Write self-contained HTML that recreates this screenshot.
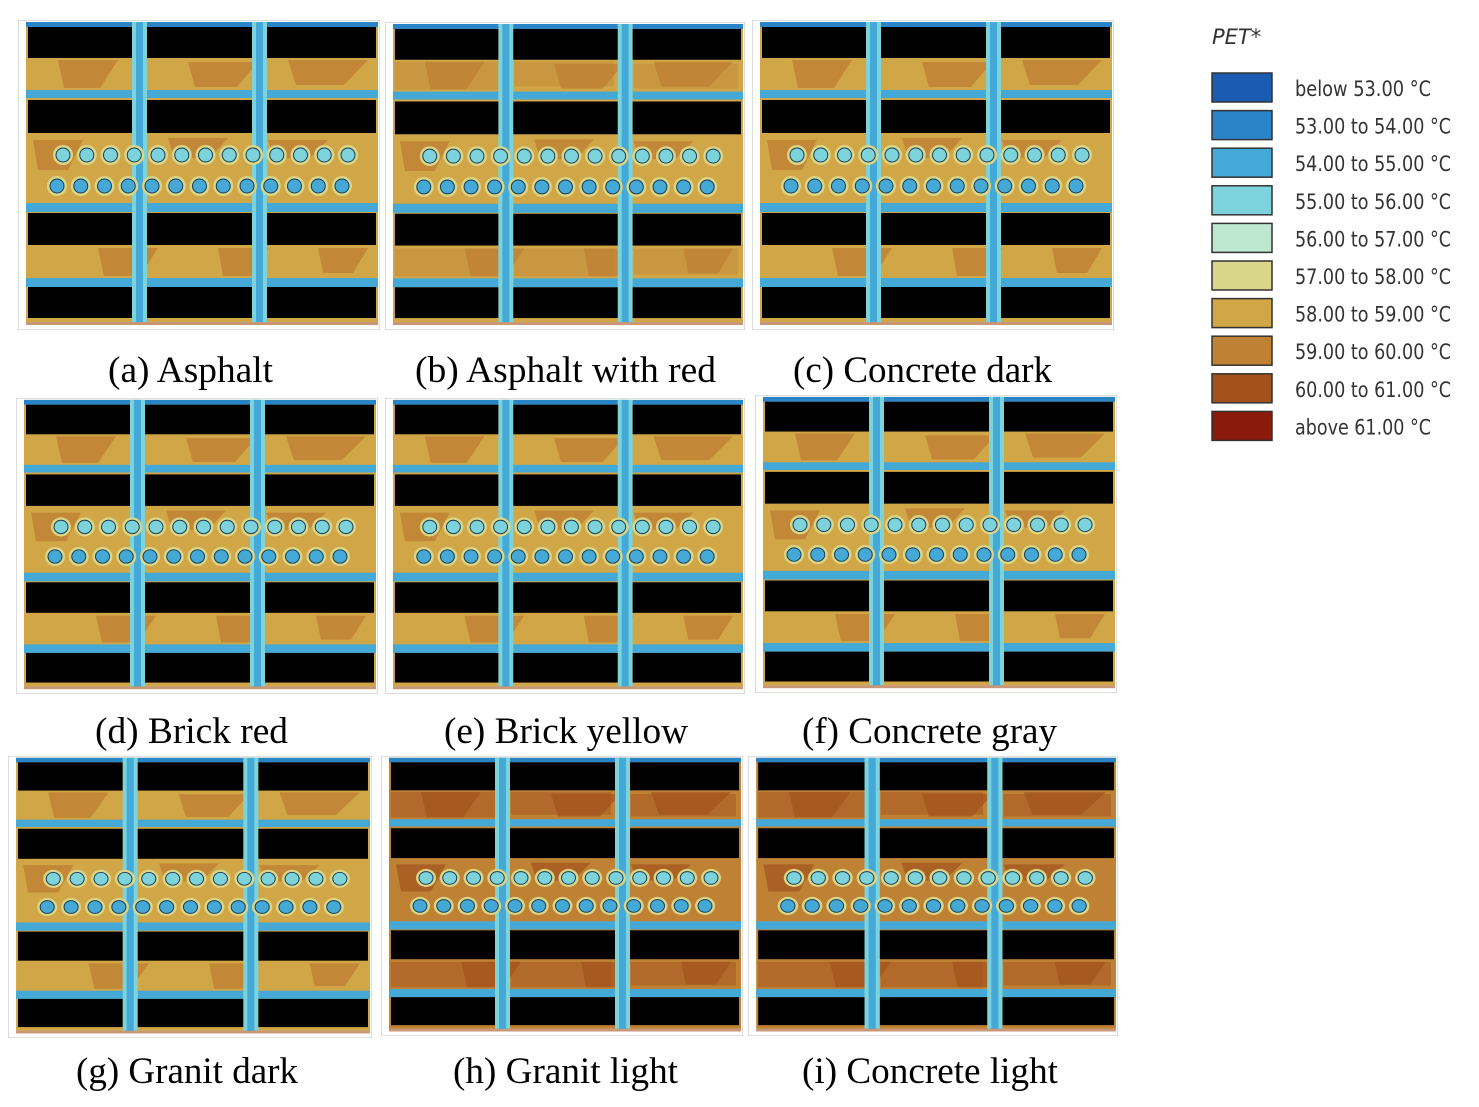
<!DOCTYPE html>
<html><head><meta charset="utf-8"><style>
html,body{margin:0;padding:0;background:#fff;}
svg{display:block;}
.cap{font-family:"Liberation Serif",serif;font-size:37px;fill:#000;}
.lg{font-family:"DejaVu Sans","Liberation Sans",sans-serif;font-size:21px;fill:#333;}
</style></head><body>
<svg id="fig" width="1479" height="1107" viewBox="0 0 1479 1107"></svg>
<script>
const legendLabels=["below 53.00 °C","53.00 to 54.00 °C","54.00 to 55.00 °C","55.00 to 56.00 °C","56.00 to 57.00 °C","57.00 to 58.00 °C","58.00 to 59.00 °C","59.00 to 60.00 °C","60.00 to 61.00 °C","above 61.00 °C"];
const legendColors=["#1a5bb0","#2a84c8","#44a9d6","#7dd3dc","#bde8cf","#d9d68a","#d1a646","#bf8235","#a3521d","#8a1a0c"];
const panelNames=["(a) Asphalt","(b) Asphalt with red","(c) Concrete dark","(d) Brick red","(e) Brick yellow","(f) Concrete gray","(g) Granit dark","(h) Granit light","(i) Concrete light"];
const bandClass=[6,6,6,6,6,6,6,7,7];
const patchClass=[7,7,7,7,7,7,7,8,8];
const treesPerRow=[13,13,13,13,13,13,13,13,13];
const panelRects=[[18,20,362,310],[385,22,360,308],[752,20,362,310],[16,398,362,296],[385,398,360,296],[755,395,362,298],[8,756,364,282],[381,756,362,280],[748,756,370,280]];
const capPos=[[108,382,165],[415,382,301],[793,382,259],[95,743,193],[444,743,244],[802,743,255],[76,1083,222],[453,1083,225],[802,1083,256]];

const NS="http://www.w3.org/2000/svg";
const fig=document.getElementById('fig');
function mk(tag,attrs,parent){const e=document.createElementNS(NS,tag);for(const k in attrs)e.setAttribute(k,attrs[k]);(parent||fig).appendChild(e);return e;}

panelRects.forEach((r,p)=>{
  const g=mk('svg',{x:r[0],y:r[1],width:r[2],height:r[3],viewBox:"0 0 362 310",preserveAspectRatio:"none"});
  
  
  const band=legendColors[bandClass[p]], patch=legendColors[patchClass[p]];
  mk('rect',{x:0,y:0,width:362,height:310,fill:"#fff",stroke:"#bbb","stroke-width":1},g);
  mk('rect',{x:8,y:2,width:352,height:300,fill:band},g);
  [[40,40,60,28],[170,42,70,25],[270,40,80,25],[15,120,50,30],[150,118,60,20],[250,120,60,18],[80,228,60,28],[200,228,50,28],[300,228,50,25]].forEach(q=>{
    mk('polygon',{points:`${q[0]},${q[1]} ${q[0]+q[2]},${q[1]} ${q[0]+q[2]*0.7},${q[1]+q[3]} ${q[0]+q[2]*0.1},${q[1]+q[3]}`,fill:patch,opacity:p>=7?0.7:0.85},g);
  });
  if(p>=7||p===1){[[10,40,105,28],[130,40,100,25],[250,42,105,25],[10,228,110,28],[130,228,100,28],[250,228,105,26]].forEach(q=>mk('rect',{x:q[0],y:q[1],width:q[2],height:q[3],fill:patch,opacity:p===1?0.4:0.5},g));}
  mk('rect',{x:8,y:2,width:352,height:5,fill:legendColors[1]},g);
  [[70,8],[183,9],[258,9]].forEach(s=>mk('rect',{x:8,y:s[0],width:352,height:s[1],fill:legendColors[2]},g));
  [114,234].forEach(x=>mk('rect',{x:x,y:2,width:15,height:300,fill:legendColors[3]},g));
  [114,234].forEach(x=>mk('rect',{x:x+4,y:2,width:7,height:300,fill:legendColors[2]},g));
  [[7,31],[80,33],[193,32],[267,31]].forEach(rw=>[[10,104],[129,105],[249,109]].forEach(c=>{
    const b=mk('rect',{x:c[0],y:rw[0],width:c[1],height:rw[1],fill:"#000"},g);
    
    
  }));
  const n=treesPerRow[p];
  [135,166].forEach((ty,ri)=>{for(let i=0;i<n;i++){const tx=45+i*(285/(n-1))-(ri?6:0);
    mk('circle',{cx:tx,cy:ty,r:10,fill:legendColors[5]},g);
    const t=mk('circle',{cx:tx,cy:ty,r:7,fill:legendColors[ri?2:3],stroke:"#1a3a50","stroke-width":1},g);
    
    }});
  mk('rect',{x:8,y:302,width:352,height:3,fill:legendColors[8],opacity:0.6},g);
  const c=capPos[p];
  const tx=mk('text',{x:c[0],y:c[1],class:'cap',textLength:c[2],lengthAdjust:'spacingAndGlyphs'});
  tx.textContent=panelNames[p];
  
  
});

const ttl=mk('text',{x:1212,y:44,class:'lg','font-style':'italic'});ttl.textContent="PET*";


legendLabels.forEach((l,i)=>{
  const y=73+i*37.6;
  const s=mk('rect',{x:1212,y:y,width:60,height:29,fill:legendColors[i],stroke:"#333","stroke-width":1.5});
  
  
  const t=mk('text',{x:1295,y:y+23,class:'lg',textLength:i===0?136:(i===9?136:156),lengthAdjust:'spacingAndGlyphs'});
  t.textContent=l;
  
  
});
</script>
</body></html>
